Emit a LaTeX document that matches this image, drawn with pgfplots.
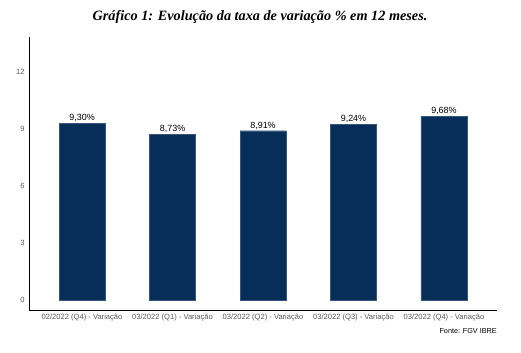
\documentclass[border=0pt]{standalone}
\usepackage{pgfplots}
\pgfplotsset{compat=1.18}
\usepackage{fontspec}
\setmainfont{Liberation Sans}
\newfontfamily\titlefont{Liberation Serif}
\definecolor{barblue}{RGB}{6,46,89}
\definecolor{tickgray}{RGB}{90,90,90}
\begin{document}
\begin{tikzpicture}
\useasboundingbox (-29bp,-43bp) rectangle (492bp,310bp);
\begin{axis}[
  at={(0,0)}, anchor=south west,
  scale only axis, width=468bp, height=273bp,
  xmin=-0.586, xmax=4.586, ymin=-0.53, ymax=13.84,
  axis x line*=bottom, axis y line*=left,
  axis line style={black, line width=0.6pt},
  every outer x axis line/.append style={-}, every outer y axis line/.append style={-},
  xtick={0,1,2,3,4},
  xticklabels={02/2022 (Q4) - Variação,03/2022 (Q1) - Variação,03/2022 (Q2) - Variação,03/2022 (Q3) - Variação,03/2022 (Q4) - Variação},
  ytick={0,3,6,9,12},
  major tick length=0pt,
  tick label style={font=\fontsize{7.6}{8}\selectfont, text=tickgray},
  /pgf/number format/assume math mode=true,
  xticklabel style={yshift=-0.5bp},
  yticklabel style={xshift=-1bp},
  ybar, bar width=46bp, bar shift=0pt,
  nodes near coords={\pgfmathprintnumber[fixed,fixed zerofill,precision=2,use comma]{\pgfplotspointmeta}\%},
  every node near coord/.append style={font=\fontsize{9}{10}\selectfont, text=black, yshift=-2bp},
]
\addplot[fill=barblue, draw=barblue!80!white, line width=0.3pt] coordinates {(0,9.30) (1,8.73) (2,8.91) (3,9.24) (4,9.68)};
\end{axis}
\node[font=\titlefont\bfseries\itshape\fontsize{14.3}{16}\selectfont] at (231bp,293bp) {Gráfico 1: Evolução da taxa de variação \% em 12 meses.};
\node[anchor=east, font=\fontsize{7.3}{8}\selectfont, inner sep=0pt] at (468bp,-21bp) {Fonte: FGV IBRE};
\end{tikzpicture}
\end{document}
